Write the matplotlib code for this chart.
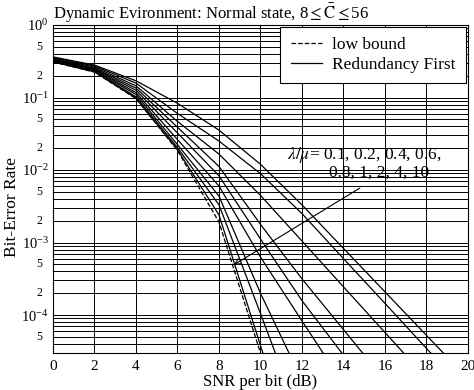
import numpy as np
import matplotlib
matplotlib.use('Agg')
import matplotlib.pyplot as plt
from matplotlib.ticker import LogLocator, NullFormatter

plt.rcParams['font.family'] = ['Liberation Serif', 'DejaVu Serif']
plt.rcParams['mathtext.fontset'] = 'stix'

# SNR per bit (dB), one point every 2 dB
snr = [0, 2, 4, 6, 8, 10, 12, 14, 16, 18, 20]

# lower bound (dashed)
ber_bound = [0.309, 0.224, 0.0966, 0.0186, 0.00191, 3.0e-5, 5.0e-7]

# Redundancy First, lambda/mu = 0.1 ... 10
ratios = [0.1, 0.2, 0.4, 0.6, 0.8, 1, 2, 4, 10]
ber_01 = [0.311, 0.226, 0.0977, 0.0191, 0.00240, 3.8e-5, 6.3e-7]
ber_02 = [0.316, 0.232, 0.102, 0.0204, 0.00331, 1.05e-4, 3.16e-6]
ber_04 = [0.324, 0.237, 0.110, 0.0224, 0.00437, 2.0e-4, 1.26e-5]
ber_06 = [0.327, 0.243, 0.117, 0.0263, 0.00603, 6.31e-4, 8.3e-5, 1.12e-5]
ber_08 = [0.335, 0.248, 0.126, 0.0324, 0.00832, 0.00112, 1.58e-4, 2.8e-5, 4.0e-6]
ber_1 = [0.339, 0.254, 0.135, 0.0389, 0.0112, 0.00178, 3.16e-4, 6.3e-5, 1.26e-5]
ber_2 = [0.347, 0.263, 0.145, 0.0468, 0.0166, 0.00447, 1.05e-3, 2.45e-4, 5.75e-5, 1.35e-5]
ber_4 = [0.355, 0.272, 0.158, 0.0603, 0.0251, 0.00891, 2.51e-3, 6.0e-4, 1.45e-4, 3.47e-5, 8.3e-6]
ber_10 = [0.363, 0.280, 0.170, 0.0832, 0.0355, 0.0120, 3.31e-3, 8.3e-4, 2.09e-4, 5.25e-5, 1.32e-5]
curves = [ber_01, ber_02, ber_04, ber_06, ber_08, ber_1, ber_2, ber_4, ber_10]

fig = plt.figure(figsize=(4.74, 3.9), dpi=100)
ax = fig.add_axes([0.1118, 0.0949, 0.8755, 0.841])

ax.semilogy(snr[:len(ber_bound)], ber_bound, color='black', linestyle='--', linewidth=0.9, label='low bound')
for i, b in enumerate(curves):
    ax.semilogy(snr[:len(b)], b, color='black', linewidth=0.9,
                label='Redundancy First' if i == 0 else None)

ax.set_xlim(0, 20)
ax.set_ylim(3e-5, 1)
ax.set_xticks(snr)
ax.yaxis.set_major_locator(LogLocator(base=10, numticks=10))
ax.yaxis.set_minor_locator(LogLocator(base=10, subs=np.arange(2, 10), numticks=20))
ax.yaxis.set_minor_formatter(NullFormatter())

# only 2 and 5 carry a label between decades
minor_pos = [5e-1, 2e-1, 5e-2, 2e-2, 5e-3, 2e-3, 5e-4, 2e-4, 5e-5]
minor_lab = ['5', '2', '5', '2', '5', '2', '5', '2', '5']
for p, s in zip(minor_pos, minor_lab):
    ax.text(-0.025, p, s, transform=ax.get_yaxis_transform(), ha='right', va='center', fontsize=8.5)

ax.tick_params(axis='both', which='both', length=0)
ax.tick_params(axis='y', pad=3, labelsize=10.5)
ax.tick_params(axis='x', pad=5, labelsize=11)
ax.grid(True, which='major', color='black', linewidth=0.7)
ax.grid(True, which='minor', axis='y', color='black', linewidth=0.7)
for sp in ax.spines.values():
    sp.set_linewidth(0.8)

ax.set_xlabel('SNR per bit (dB)', fontsize=12)
ax.xaxis.set_label_coords(0.5, -0.064)
ax.set_ylabel('Bit-Error Rate', fontsize=12.5)
ax.yaxis.set_label_coords(-0.08, 0.445)
ax.set_title(r'Dynamic Evironment: Normal state, 8$\leq\bar{\mathrm{C}}\leq$56', loc='left', fontsize=12, pad=1)

leg = ax.legend(loc='upper right', fontsize=12.5, handlelength=1.8, handletextpad=0.6, fancybox=False,
                edgecolor='black', framealpha=1, borderaxespad=0.1, borderpad=0.6, labelspacing=0.2)
leg.get_frame().set_linewidth(0.8)

ax.text(11.28, 0.0159, r'$\lambda/\mu$= 0.1, 0.2, 0.4, 0.6,', fontsize=12.5, va='center')
ax.text(13.3, 0.0093, '0.8, 1, 2, 4, 10', fontsize=12.5, va='center')
ax.annotate('', xy=(8.6, 4.7e-4), xytext=(14.9, 5.9e-3),
            arrowprops=dict(arrowstyle='->', color='black', lw=0.8))

plt.savefig('out.png', dpi=100)
